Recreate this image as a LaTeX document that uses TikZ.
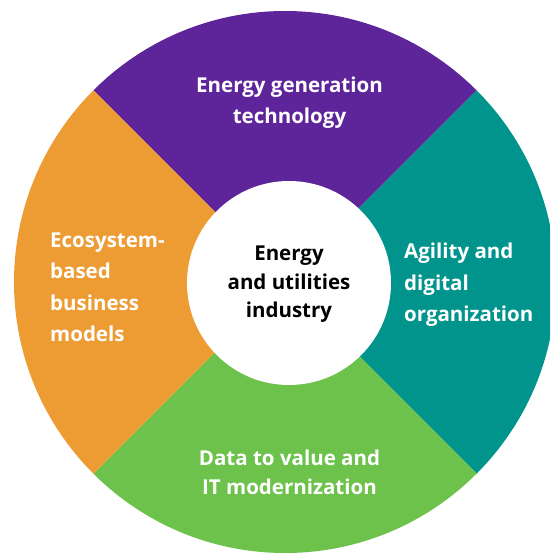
\documentclass[tikz,border=0pt]{standalone}
\usepackage{fontspec}
\setmainfont{Open Sans}
\definecolor{segpurple}{RGB}{94,37,154}
\definecolor{segorange}{RGB}{237,156,52}
\definecolor{segteal}{RGB}{0,148,140}
\definecolor{seggreen}{RGB}{108,194,74}
\tikzset{
  seglabel/.style={text=white, font=\bfseries\fontsize{20.5}{31.5}\selectfont, inner sep=0pt},
  hublabel/.style={text=black, font=\bfseries\fontsize{20.5}{28.5}\selectfont, inner sep=0pt, align=center}
}
\begin{document}
\begin{tikzpicture}[x=1pt,y=-1pt]
  \useasboundingbox (0,0) rectangle (550,554);
  \clip (0,0) rectangle (550,554);
  \coordinate (c) at (285,282);
  % four quadrants of the outer ring, cut by the diagonals
  \begin{scope}
    \clip (c) circle[radius=271];
    \fill[segpurple] (c) -- ++(-600,-600) -- ++(1200,0) -- cycle;
    \fill[segteal]   (c) -- ++(600,-600) -- ++(0,1200) -- cycle;
    \fill[seggreen]  (c) -- ++(600,600) -- ++(-1200,0) -- cycle;
    \fill[segorange] (c) -- ++(-600,600) -- ++(0,-1200) -- cycle;
  \end{scope}
  % central hub
  \node[circle, fill=white, minimum size=204pt, inner sep=0pt] (hub) at (289,283) {};
  \node[hublabel] (hubtext) at (289,284.5) {Energy\\and utilities\\industry};
  % segment labels
  \node[seglabel, align=center] (gen) at (289.5,102.5) {Energy generation\\technology};
  \node[seglabel, align=left, anchor=west] (eco) at (50,287.5) {Ecosystem-\\based\\business\\models};
  \node[seglabel, align=left, anchor=west] (agile) at (404,285) {Agility and\\digital\\organization};
  \node[seglabel, align=center, font=\bfseries\fontsize{20.5}{29}\selectfont] (data) at (289.5,472.5) {Data to value and\\IT modernization};
\end{tikzpicture}
\end{document}
